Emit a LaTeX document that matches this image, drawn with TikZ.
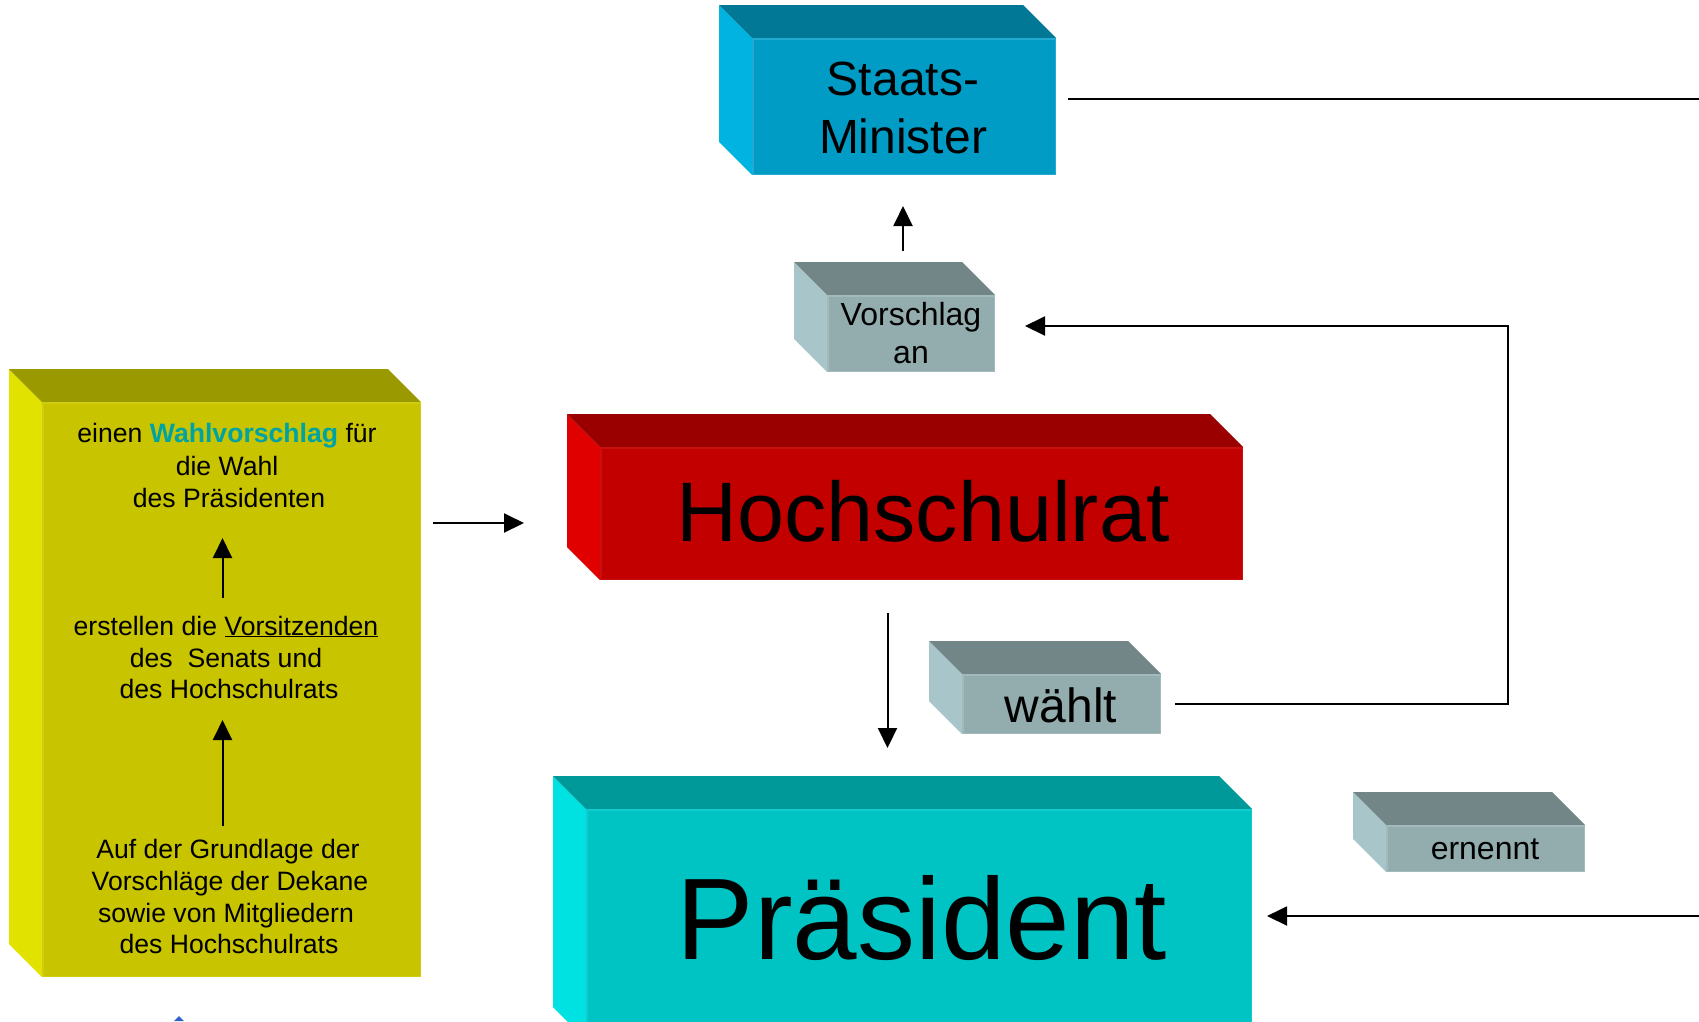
\documentclass[tikz,border=0pt]{standalone}
\usepackage{fontspec}
\setmainfont{Liberation Sans}
\usetikzlibrary{arrows.meta}
\definecolor{stF}{HTML}{009CC6}\definecolor{stT}{HTML}{007896}\definecolor{stL}{HTML}{00B3E0}\definecolor{stE}{HTML}{22AAD2}
\definecolor{grF}{HTML}{93ACAE}\definecolor{grT}{HTML}{728587}\definecolor{grL}{HTML}{A8C6C9}\definecolor{grE}{HTML}{A2BABC}
\definecolor{rdF}{HTML}{C20000}\definecolor{rdT}{HTML}{9A0000}\definecolor{rdL}{HTML}{E00000}\definecolor{rdE}{HTML}{C81010}
\definecolor{cyF}{HTML}{00C4C4}\definecolor{cyT}{HTML}{009999}\definecolor{cyL}{HTML}{00E2E2}\definecolor{cyE}{HTML}{10CCCC}
\definecolor{yeF}{HTML}{C8C400}\definecolor{yeT}{HTML}{9A9A00}\definecolor{yeL}{HTML}{E2E200}\definecolor{yeE}{HTML}{D0CC10}
\definecolor{wahl}{HTML}{00A3A3}
\definecolor{bluetip}{HTML}{2F5FC8}
% #1 front left x, #2 front top y, #3 front right x, #4 front bottom y, #5 colour prefix
\newcommand\cuboid[5]{%
  \fill[#5L] (#1-33,#2-33) -- (#1,#2) -- (#1,#4) -- (#1-33,#4-33) -- cycle;
  \fill[#5T] (#1-33,#2-33) -- (#3-33,#2-33) -- (#3,#2) -- (#1,#2) -- cycle;
  \fill[#5F] (#1,#2) rectangle (#3,#4);
  \draw[#5E, line width=1.5pt] (#1+0.75,#2+0.75) rectangle (#3-0.75,#4-0.75);
}
\tikzset{
  conn/.style={line width=2pt, black},
  arr/.style={conn, -{Triangle[length=20pt,width=19pt]}},
  txt/.style={anchor=base, inner sep=0pt, text=black},
  yel/.style={txt, font=\fontsize{26.6}{32}\selectfont},
}
\begin{document}
\begin{tikzpicture}[x=1pt,y=-1pt]
\useasboundingbox (0,0) rectangle (1699,1021);
\clip (0,0) rectangle (1699,1021);
% boxes
\cuboid{752}{38}{1056}{175}{st}
\cuboid{827}{295}{995}{372}{gr}
\cuboid{42}{402}{421}{977}{ye}
\cuboid{600}{447}{1243}{580}{rd}
\cuboid{962}{674}{1161}{734}{gr}
\cuboid{586}{809}{1252}{1040}{cy}
\cuboid{1386}{825}{1585}{872}{gr}
% texts
\node[txt, font=\fontsize{48}{58}\selectfont] (staats1) at (903,95) {Staats-};
\node[txt, font=\fontsize{48}{58}\selectfont] (staats2) at (903,153) {Minister};
\node[txt, font=\fontsize{32}{38}\selectfont] (vor1) at (911,325) {Vorschlag};
\node[txt, font=\fontsize{32}{38}\selectfont] (vor2) at (911,363) {an};
\node[txt, font=\fontsize{84.5}{100}\selectfont] (hsr) at (923,541) {Hochschulrat};
\node[txt, font=\fontsize{48}{56}\selectfont] (waehlt) at (1061,722) {wählt};
\node[txt, font=\fontsize{116}{130}\selectfont] (praes) at (922,959) {Präsident};
\node[txt, font=\fontsize{32}{40}\selectfont] (ernennt) at (1485,859) {ernennt};
\node[yel] (y1) at (227,442) {einen \textbf{\textcolor{wahl}{Wahlvorschlag}} für};
\node[yel] (y2) at (227,475) {die Wahl};
\node[yel] (y3) at (229,507) {des Präsidenten};
\node[yel] (y4) at (226,635) {erstellen die \underline{Vorsitzenden}};
\node[yel] (y5) at (226,667) {des\ \ Senats und};
\node[yel] (y6) at (229,698) {des Hochschulrats};
\node[yel] (y7) at (228,858) {Auf der Grundlage der};
\node[yel] (y8) at (230,890) {Vorschläge der Dekane};
\node[yel] (y9) at (226,922) {sowie von Mitgliedern};
\node[yel] (y10) at (229,953) {des Hochschulrats};
% connector coordinates
\coordinate (smA) at (1068,99);
\coordinate (smB) at (1699,99);
\coordinate (upA) at (903,251);
\coordinate (upB) at (903,206);
\coordinate (yhA) at (433,523);
\coordinate (yhB) at (524,523);
\coordinate (ya1) at (222.5,598);
\coordinate (yb1) at (222.5,538);
\coordinate (ya2) at (222.5,826);
\coordinate (yb2) at (222.5,720);
\coordinate (hdA) at (887.5,613);
\coordinate (hdB) at (887.5,748);
\coordinate (wlA) at (1175,704);
\coordinate (wlC1) at (1508,704);
\coordinate (wlC2) at (1508,326);
\coordinate (wlB) at (1025,326);
\coordinate (prA) at (1699,916);
\coordinate (prB) at (1267,916);
% connectors
\draw[conn] (smA) -- (smB);
\draw[arr] (upA) -- (upB);
\draw[arr] (yhA) -- (yhB);
\draw[arr] (ya1) -- (yb1);
\draw[arr] (ya2) -- (yb2);
\draw[arr] (hdA) -- (hdB);
\draw[arr] (wlA) -- (wlC1) -- (wlC2) -- (wlB);
\draw[arr] (prA) -- (prB);
% small blue tip at bottom edge
\fill[bluetip] (174,1021) -- (179,1016) -- (184,1021) -- cycle;
\end{tikzpicture}
\end{document}
